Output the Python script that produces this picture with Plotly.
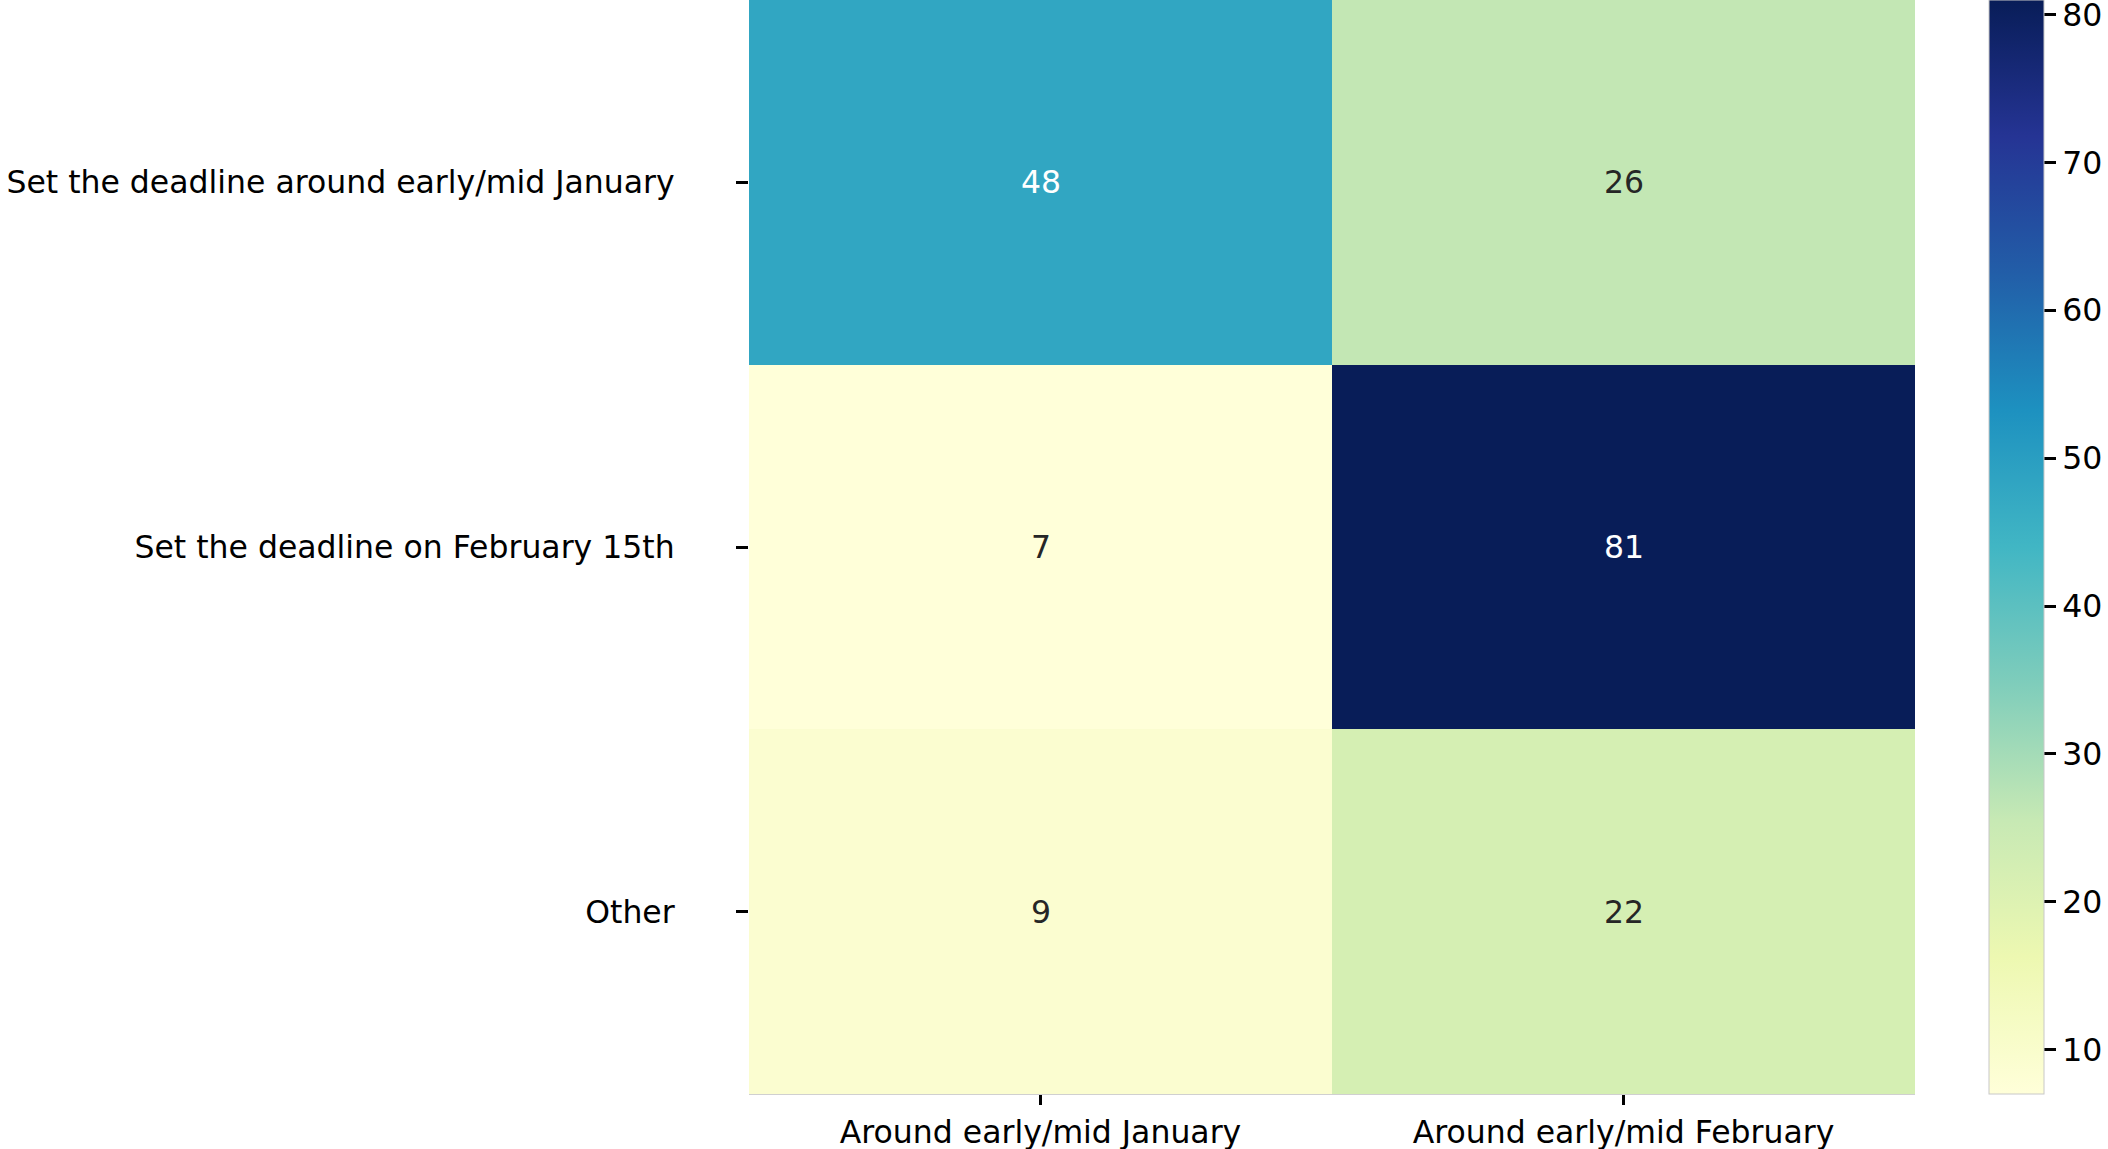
import plotly.graph_objects as go

# data
columns = ["Around early/mid January", "Around early/mid February"]
rows = ["Set the deadline around early/mid January",
        "Set the deadline on February 15th",
        "Other"]
counts = [
    [48, 26],
    [7, 81],
    [9, 22],
]
cbar_ticks = [10, 20, 30, 40, 50, 60, 70, 80]

# colorbrewer YlGnBu, light -> dark (same as seaborn's cmap)
ylgnbu = ['#ffffd9', '#edf8b1', '#c7e9b4', '#7fcdbb', '#41b6c4',
          '#1d91c0', '#225ea8', '#253494', '#081d58']
colorscale = [[i / (len(ylgnbu) - 1), c] for i, c in enumerate(ylgnbu)]

zmin = min(min(r) for r in counts)
zmax = max(max(r) for r in counts)

FONT = "DejaVu Sans"
FS = 31.5

fig = go.Figure()
fig.add_trace(go.Heatmap(
    z=counts, x=columns, y=rows,
    colorscale=colorscale, zmin=zmin, zmax=zmax,
    xgap=0, ygap=0,
    colorbar=dict(
        thickness=55, len=1, lenmode="fraction",
        x=1989 / 2108, xref="container", xanchor="left",
        y=0.5, yanchor="middle", xpad=0, ypad=0,
        outlinewidth=1, outlinecolor="#c8c8c8",
        ticks="outside", ticklen=12, tickwidth=2.5, tickcolor="black",
        tickvals=cbar_ticks, ticklabeloverflow="allow",
        tickfont=dict(family=FONT, size=FS, color="black"),
    ),
))

# cell labels: white on dark cells, dark grey on light ones (seaborn style)
for i, r in enumerate(rows):
    for j, c in enumerate(columns):
        v = counts[i][j]
        fig.add_annotation(
            x=c, y=r, text=str(v), showarrow=False,
            font=dict(family=FONT, size=FS,
                      color="white" if v > 40 else "#262626"),
        )

fig.update_layout(
    width=2108, height=1149,
    margin=dict(l=749, r=193, t=0, b=55),
    plot_bgcolor="white", paper_bgcolor="white",
    font=dict(family=FONT, size=FS, color="black"),
)
fig.update_xaxes(
    ticks="outside", ticklen=10, tickwidth=2.5, tickcolor="black",
    showgrid=False, zeroline=False, automargin=False,
    showline=True, linecolor="#d0d0d0", linewidth=1,
    tickfont=dict(family=FONT, size=FS, color="black"),
)
fig.update_yaxes(
    autorange="reversed",
    ticks="outside", ticklen=12, tickwidth=2.5, tickcolor="black",
    ticklabelstandoff=55, automargin=False,
    showgrid=False, zeroline=False,
    tickfont=dict(family=FONT, size=FS, color="black"),
)

fig.write_html("out.html", config={"displayModeBar": False},
               post_script="document.body.style.margin='0';")
